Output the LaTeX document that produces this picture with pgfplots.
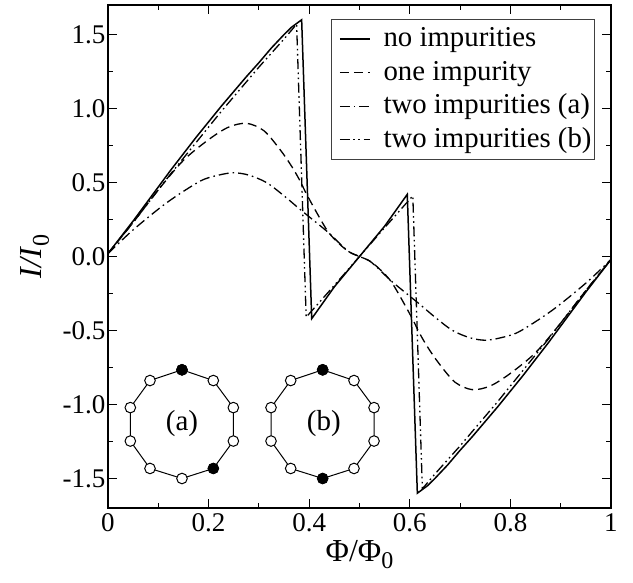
\documentclass[border=0pt]{standalone}
\usepackage{pgfplots}
\pgfplotsset{compat=1.18}
\usepackage{fontspec}
\setmainfont{Liberation Serif}
\tikzset{
  dA/.style={dash pattern=on 10pt off 4pt on 1.6pt off 4pt},
  dB/.style={dash pattern=on 10pt off 3.5pt on 1.6pt off 3.5pt on 1.6pt off 3.5pt},
  dO/.style={dash pattern=on 9pt off 5pt}
}
\begin{document}
\begin{tikzpicture}
\useasboundingbox (-108pt,-75pt) rectangle (525pt,508pt);
\begin{axis}[
  at={(0pt,0pt)}, anchor=south west,
  scale only axis, width=503pt, height=503pt,
  xmin=0, xmax=1, ymin=-1.7, ymax=1.7,
  axis line style={line width=1.5pt},
  tick pos=both, tick align=inside,
  major tick length=9pt, minor tick length=5pt,
  tick style={line width=1.1pt, black},
  xtick={0,0.2,0.4,0.6,0.8,1},
  xticklabels={0,0.2,0.4,0.6,0.8,1},
  ytick={-1.5,-1,-0.5,0,0.5,1,1.5},
  yticklabels={-1.5,-1.0,-0.5,0.0,0.5,1.0,1.5},
  minor x tick num=1, minor y tick num=1,
  ticklabel style={font=\fontsize{27}{27}\selectfont},
  xticklabel style={yshift=-2pt},
  yticklabel style={xshift=1pt},
  xlabel={\fontsize{32}{32}\selectfont Φ/Φ\raisebox{-7pt}{\fontsize{24}{24}\selectfont 0}},
  ylabel={\fontsize{32}{32}\selectfont \textit{I/I}\raisebox{-7pt}{\fontsize{24}{24}\selectfont 0}},
  xlabel style={at={(axis description cs:0.5,0)}, anchor=center, yshift=-47pt},
  ylabel style={at={(axis description cs:0,0.5)}, anchor=center, yshift=73pt},
  legend style={at={(axis description cs:0.4427,0.9716)}, anchor=north west,
    draw=black!75, line width=0.8pt, inner xsep=3pt, inner ysep=6pt,
    font=\fontsize{28.8}{28.8}\selectfont,
    /tikz/row sep=6.5pt,
    nodes={inner sep=0pt, text height=21pt, text depth=6pt}},
  legend cell align=left,
  legend image code/.code={\draw[#1] (5pt,0pt) -- (35pt,0pt); \path (0pt,0pt) (48pt,0pt);},
  clip=false,
]
\addplot[black, line width=1.5pt] coordinates {
(0,.02)(.025,.13)(.05,.24)(.075,.355)(.1,.47)(.125,.585)(.15,.695)(.175,.805)(.2,.91)(.225,1.015)(.25,1.115)(.275,1.215)(.3,1.31)(.325,1.41)(.35,1.50)(.365,1.55)(.385,1.6)
(.405,-.42)(.45,-.205)(.5,0)(.55,.205)(.595,.42)
(.615,-1.6)(.635,-1.55)(.65,-1.50)(.675,-1.41)(.7,-1.31)(.725,-1.215)(.75,-1.115)(.775,-1.015)(.8,-.91)(.825,-.805)(.85,-.695)(.875,-.585)(.9,-.47)(.925,-.355)(.95,-.24)(.975,-.13)(1,-.02)};
\addlegendentry{no impurities}
\addplot[black, line width=1.3pt, dO, smooth, tension=0.5] coordinates {
(0,.02)(.05,.23)(.1,.45)(.15,.65)(.2,.79)(.24,.875)(.276,.9)(.31,.85)(.342,.723)(.365,.61)(.382,.51)(.397,.407)(.435,.18)(.46,.085)(.48,.03)(.5,0)
(.52,-.03)(.54,-.085)(.565,-.18)(.603,-.407)(.618,-.51)(.635,-.61)(.658,-.723)(.69,-.85)(.724,-.9)(.76,-.875)(.8,-.79)(.85,-.65)(.9,-.45)(.95,-.23)(1,-.02)};
\addlegendentry{one impurity}
\addplot[black, line width=1.3pt, dA, smooth, tension=0.5] coordinates {
(0,.02)(.05,.18)(.117,.364)(.183,.509)(.22,.55)(.25,.566)(.28,.55)(.315,.5)(.35,.41)(.382,.318)(.435,.171)(.46,.09)(.48,.03)(.5,0)
(.52,-.03)(.54,-.09)(.565,-.171)(.618,-.318)(.65,-.41)(.685,-.5)(.72,-.55)(.75,-.566)(.78,-.55)(.817,-.509)(.883,-.364)(.95,-.18)(1,-.02)};
\addlegendentry{two impurities (a)}
\addplot[black, line width=1.3pt, dB] coordinates {
(0,.02)(.025,.125)(.05,.23)(.075,.34)(.1,.45)(.125,.56)(.15,.665)(.175,.77)(.2,.875)(.225,.98)(.25,1.08)(.275,1.18)(.3,1.28)(.325,1.375)(.35,1.47)(.375,1.57)
(.394,-.41)(.45,-.195)(.5,0)(.55,.195)(.606,.41)
(.625,-1.57)(.65,-1.47)(.675,-1.375)(.7,-1.28)(.725,-1.18)(.75,-1.08)(.775,-.98)(.8,-.875)(.825,-.77)(.85,-.665)(.875,-.56)(.9,-.45)(.925,-.34)(.95,-.23)(.975,-.125)(1,-.02)};
\addlegendentry{two impurities (b)}
% ring (a)
\addplot[forget plot, black, line width=1pt, mark=*, mark size=5.3pt, mark options={fill=white, solid}] coordinates {
(.1471,-.766)(.2094,-.8384)(.2492,-1.0214)(.2492,-1.2475)(.2094,-1.4328)(.1471,-1.5006)(.0835,-1.4328)(.0444,-1.2475)(.0444,-1.0214)(.0835,-.8384)(.1471,-.766)};
\addplot[forget plot, only marks, black, mark=*, mark size=5.3pt] coordinates {(.1471,-.766)(.2094,-1.4328)};
% ring (b)
\addplot[forget plot, black, line width=1pt, mark=*, mark size=5.3pt, mark options={fill=white, solid}] coordinates {
(.4268,-.766)(.4891,-.8384)(.5289,-1.0214)(.5289,-1.2475)(.4891,-1.4328)(.4268,-1.5006)(.3632,-1.4328)(.3241,-1.2475)(.3241,-1.0214)(.3632,-.8384)(.4268,-.766)};
\addplot[forget plot, only marks, black, mark=*, mark size=5.3pt] coordinates {(.4268,-.766)(.4268,-1.5006)};
\node[font=\fontsize{29}{29}\selectfont] at (axis cs:.1471,-1.128) {(a)};
\node[font=\fontsize{29}{29}\selectfont] at (axis cs:.4290,-1.128) {(b)};
\end{axis}
\end{tikzpicture}
\end{document}
